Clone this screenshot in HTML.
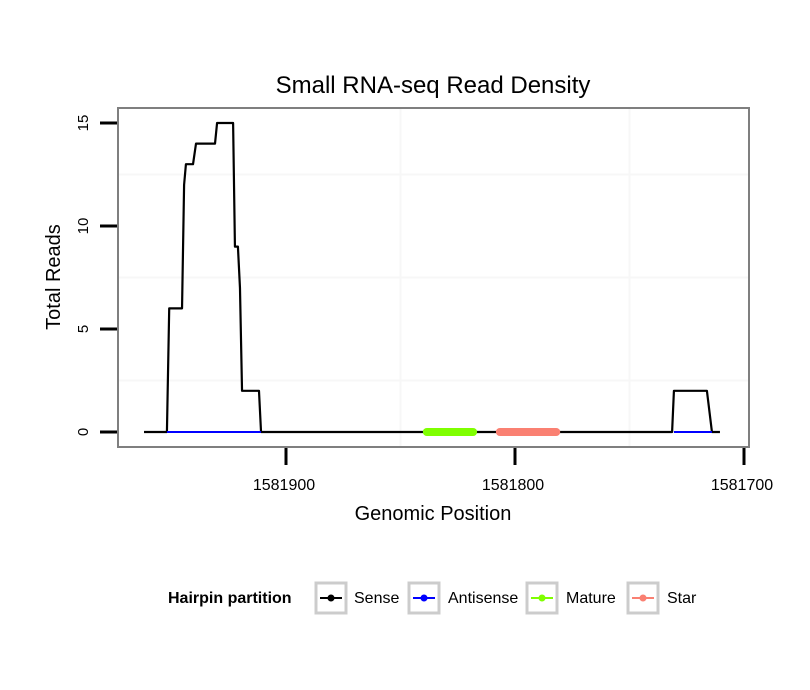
<!DOCTYPE html>
<html><head><meta charset="utf-8"><style>
body{margin:0;background:#fff;}
svg{display:block;font-family:"Liberation Sans",sans-serif;}
</style></head><body>
<svg id="chart" width="810" height="690">
<rect width="810" height="690" fill="#fff"/>
<text x="433" y="93" font-size="24" text-anchor="middle">Small RNA-seq Read Density</text>
<g id="grid"></g>
<g id="marks"></g>
<rect x="118" y="108" width="631" height="339" fill="none" stroke="#7f7f7f" stroke-width="2"/>
<g id="axes"></g>
<text x="433" y="520" font-size="20" text-anchor="middle">Genomic Position</text>
<text transform="translate(60,277) rotate(-90)" font-size="20" text-anchor="middle">Total Reads</text>
<g>
<text x="168" y="603" font-size="16" font-weight="bold">Hairpin partition</text>
<g><rect x="316" y="583" width="30" height="30" fill="#fff" stroke="#ccc" stroke-width="3"/><line x1="320" y1="598" x2="342" y2="598" stroke="#000" stroke-width="2"/><circle cx="331" cy="598" r="3.5" fill="#000"/><text x="354" y="603" font-size="16">Sense</text></g>
<g><rect x="409" y="583" width="30" height="30" fill="#fff" stroke="#ccc" stroke-width="3"/><line x1="413" y1="598" x2="435" y2="598" stroke="#0000ff" stroke-width="2"/><circle cx="424" cy="598" r="3.5" fill="#0000ff"/><text x="448" y="603" font-size="16">Antisense</text></g>
<g><rect x="527" y="583" width="30" height="30" fill="#fff" stroke="#ccc" stroke-width="3"/><line x1="531" y1="598" x2="553" y2="598" stroke="#7fff00" stroke-width="2"/><circle cx="542" cy="598" r="3.5" fill="#7fff00"/><text x="566" y="603" font-size="16">Mature</text></g>
<g><rect x="628" y="583" width="30" height="30" fill="#fff" stroke="#ccc" stroke-width="3"/><line x1="632" y1="598" x2="654" y2="598" stroke="#fa8072" stroke-width="2"/><circle cx="643" cy="598" r="3.5" fill="#fa8072"/><text x="667" y="603" font-size="16">Star</text></g>
</g>
</svg>
<script>
const senseX=[1581962,1581952,1581951,1581945.4,1581944.5,1581943.7,1581940.6,1581939.3,1581931,1581930.1,1581923.1,1581922.3,1581921,1581920.1,1581919.2,1581911.8,1581910.9,1581731.4,1581730.6,1581716.2,1581714,1581710.5];
const senseY=[0,0,6,6,12,13,13,14,14,15,15,9,9,7,2,2,0,0,2,2,0,0];
const antisenseRanges=[[1581952,1581910.9],[1581730.6,1581714]];
const matureRange=[1581838.5,1581818.3];
const starRange=[1581806.6,1581782];
const yTicks=[0,5,10,15];
const xTicks=[1581900,1581800,1581700];
const xMinor=[1581850,1581750];
const yMinor=[2.5,7.5,12.5];

const NS="http://www.w3.org/2000/svg";
function X(p){return 286+(1581900-p)*2.29;}
function Y(v){return 432-v*20.6;}
function mk(tag,attrs,parent){const e=document.createElementNS(NS,tag);for(const k in attrs)e.setAttribute(k,attrs[k]);parent.appendChild(e);return e;}
const grid=document.getElementById('grid'),marks=document.getElementById('marks'),axes=document.getElementById('axes');
yMinor.forEach(v=>{const l=mk('line',{x1:119,x2:748,y1:Y(v),y2:Y(v),stroke:'#f7f7f7','stroke-width':2},grid);

});
xMinor.forEach(p=>{const x=X(p);const l=mk('line',{x1:x,x2:x,y1:109,y2:446,stroke:'#f7f7f7','stroke-width':2},grid);

});
let d='';senseX.forEach((p,i)=>{d+=(i?'L':'M')+X(p)+','+Y(senseY[i]);});
const sl=mk('path',{d:d,fill:'none',stroke:'#000','stroke-width':2.2,'stroke-linejoin':'round'},marks);


antisenseRanges.forEach(r=>{const l=mk('line',{x1:X(r[0]),x2:X(r[1]),y1:Y(0),y2:Y(0),stroke:'#0000ff','stroke-width':2},marks);

});
const m=mk('line',{x1:X(matureRange[0]),x2:X(matureRange[1]),y1:Y(0),y2:Y(0),stroke:'#7fff00','stroke-width':8,'stroke-linecap':'round'},marks);


const s=mk('line',{x1:X(starRange[0]),x2:X(starRange[1]),y1:Y(0),y2:Y(0),stroke:'#fa8072','stroke-width':8,'stroke-linecap':'round'},marks);


yTicks.forEach(v=>{const t=mk('line',{x1:100,x2:117,y1:Y(v),y2:Y(v),stroke:'#000','stroke-width':3},axes);


const tx=mk('text',{transform:'translate(88,'+Y(v)+') rotate(-90)','font-size':15,'text-anchor':'middle'},axes);tx.textContent=v;

});
xTicks.forEach(p=>{const x=X(p);const t=mk('line',{x1:x,x2:x,y1:448,y2:465,stroke:'#000','stroke-width':3},axes);


const tx=mk('text',{x:x-2,y:490,'font-size':16,'text-anchor':'middle'},axes);tx.textContent=p;

});
</script>
</body></html>
